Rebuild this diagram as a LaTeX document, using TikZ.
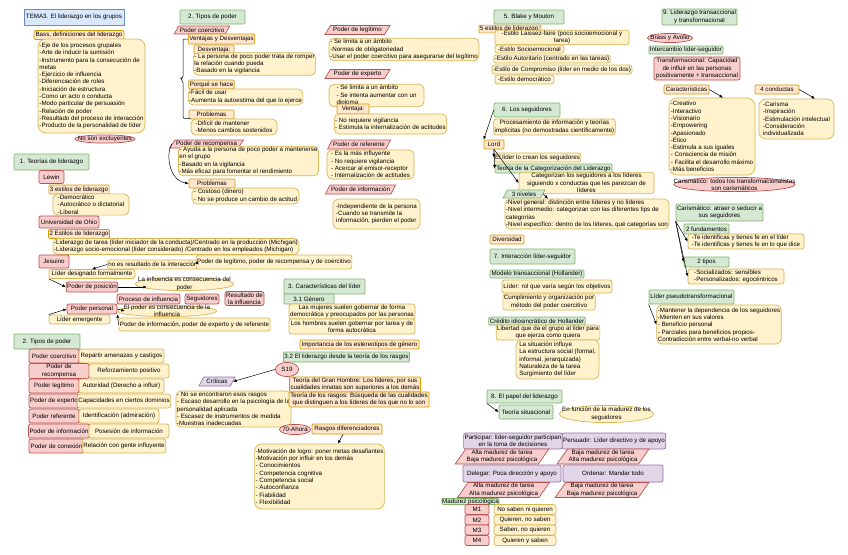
\documentclass[tikz,border=0pt]{standalone}
\usepackage{fontspec}
\setmainfont{Liberation Sans}
\usetikzlibrary{arrows.meta,calc,shapes.geometric}
\definecolor{greenFill} {HTML}{D5E8D4}
\definecolor{greenLine} {HTML}{82B366}
\definecolor{redFill}   {HTML}{F8CECC}
\definecolor{redLine}   {HTML}{B85450}
\definecolor{yellowFill}{HTML}{FFF2CC}
\definecolor{yellowLine}{HTML}{D6B656}
\definecolor{orangeFill}{HTML}{FFE6CC}
\definecolor{orangeLine}{HTML}{D79B00}
\definecolor{blueFill}  {HTML}{DAE8FC}
\definecolor{blueLine}  {HTML}{6C8EBF}
\definecolor{purpleFill}{HTML}{E1D5E7}
\definecolor{purpleLine}{HTML}{9673A6}
\newcommand{\mapfont}{\fontsize{6.2}{7.3}\selectfont}
\tikzset{
  font=\mapfont,
  arrow/.style={-{Latex[length=3.5pt,width=3pt]},draw=black,line width=0.5pt},
  boxbase/.style={rectangle,line width=0.7pt,inner sep=1pt,align=center},
  topicbox/.style={boxbase,fill=blueFill,draw=blueLine},
  titlebox/.style={boxbase,fill=greenFill,draw=greenLine,rounded corners=1pt},
  redbox/.style={boxbase,fill=redFill,draw=redLine,rounded corners=2pt},
  labelbox/.style={boxbase,fill=orangeFill,draw=orangeLine,rounded corners=1pt},
  notebox/.style={boxbase,fill=yellowFill,draw=yellowLine,rounded corners=2.5pt},
  listbox/.style={notebox,align=left,rounded corners=5pt},
  casebox/.style={boxbase,fill=purpleFill,draw=purpleLine,rounded corners=2pt},
  slanted/.style={boxbase,trapezium,trapezium left angle=55,trapezium right angle=125,trapezium stretches body},
  redslant/.style={slanted,fill=redFill,draw=redLine},
  greenslant/.style={slanted,fill=greenFill,draw=greenLine},
  purpleslant/.style={slanted,fill=purpleFill,draw=purpleLine},
  oval/.style 2 args={rectangle,inner sep=0pt,align=center,path picture={
    \path[fill=#1,draw=#2,line width=0.7pt] let \p1=(path picture bounding box.north east),
      \p2=(path picture bounding box.center) in (\p2) ellipse ({\x1-\x2-0.4pt} and {\y1-\y2-0.4pt});}},
  redoval/.style={oval={redFill}{redLine}},
  yellowoval/.style={oval={yellowFill}{yellowLine}},
}

\begin{document}
\begin{tikzpicture}[x=1pt,y=-1pt]

\useasboundingbox[fill=white] (0,0) rectangle (848,554);

\node[topicbox,minimum width=100,minimum height=16] (tema) at (74,17) {TEMA3. El liderazgo en los grupos};
\node[labelbox,minimum width=90,minimum height=9] (bass) at (79,35) {Bass, definiciones del liderazgo};
\node[listbox,minimum width=107,minimum height=94,rounded corners=8pt] (basslist) at (91.5,86)
  {-Eje de los procesos grupales\\-Arte de inducir la sumisión\\-Instrumento para la consecución de\\metas\\-Ejercicio de influencia\\-Diferenciación de roles\\-Iniciación de estructura\\-Como un acto o conducta\\-Modo particular de persuasión\\-Relación de poder\\-Resultado del proceso de interacción\\-Producto de la personalidad de líder};
\node[redoval,minimum width=61,minimum height=9] (noexcl) at (105,139) {No son excluyentes};

\node[titlebox,minimum width=75,minimum height=16] (teorias) at (51.5,162) {1. Teorías de liderazgo};
\node[redbox,minimum width=25,minimum height=13] (lewin) at (51.5,177) {Lewin};
\node[labelbox,minimum width=60,minimum height=9] (tresest) at (79,189.5) {3 estilos de liderazgo};
\node[listbox,minimum width=76,minimum height=21] (tresestlist) at (91,204.5) {-Democrático\\-Autocrático o dictatorial\\-Liberal};
\node[redbox,minimum width=60,minimum height=12] (ohio) at (69,222) {Universidad de Ohio};
\node[labelbox,minimum width=60,minimum height=9] (dosest) at (79,234) {2 Estilos de liderazgo};
\node[listbox,minimum width=246,minimum height=16] (dosestlist) at (176,246.5)
  {-Liderazgo de tarea (líder iniciador de la conducta)/Centrado en la producción (Michigan)\\-Liderazgo socio-emocional (líder considerado) /Centrado en los empleados (Michigan)};
\node[redbox,minimum width=30,minimum height=13] (jesuino) at (54,261.5) {Jesuino};
\node[notebox,minimum width=88,minimum height=9] (noes) at (153,264.5) {no es resultado de la interacción};
\node[notebox,minimum width=150,minimum height=14] (legrec) at (274,262) {Poder de legítimo, poder de recompensa y de coercitivo};
\node[notebox,minimum width=86,minimum height=9] (designado) at (92,274) {Líder designado formalmente};
\node[redbox,minimum width=50,minimum height=10] (posicion) at (92,287) {Poder de posición};
\node[yellowoval,minimum width=99,minimum height=14] (infcons) at (184.5,284) {La influencia es consecuencia del\\poder};
\node[redbox,minimum width=63,minimum height=10] (proceso) at (148.5,299) {Proceso de influencia};
\node[redbox,minimum width=34,minimum height=10] (seguidores) at (202,299) {Seguidores};
\node[redbox,minimum width=39,minimum height=13] (resultado) at (244.5,298.5) {Resultado de\\la influencia};
\node[redbox,minimum width=50,minimum height=10] (personal) at (92,309) {Poder personal};
\node[yellowoval,minimum width=100,minimum height=12] (podcons) at (167,311) {El poder es consecuencia de la\\influencia};
\node[notebox,minimum width=61,minimum height=9] (emergente) at (79.5,319.5) {Líder emergente};
\node[notebox,minimum width=149,minimum height=13] (infexp) at (194.5,324.5) {Poder de información, poder de experto y de referente};

\draw[arrow] (legrec.west) -- (noes.east);
\draw[arrow] (noes.west) -- (designado.north);
\draw[arrow] (designado.south west) -- (posicion.west);
\draw[arrow] (posicion.east) -- ([xshift=12]infcons.west |- posicion.east);
\draw[arrow] (personal.east) -- ([xshift=8]podcons.west);
\draw[arrow] (emergente.north west) -- (personal.west);
\draw[arrow] (infexp.west) -- (personal.south east);

\node[titlebox,minimum width=66,minimum height=15] (tiposb) at (47,341.5) {2. Tipos de poder};
\node[redbox,minimum width=50,minimum height=14] (celcoer) at (54,356) {Poder coercitivo};
\node[notebox,minimum width=85,minimum height=14] (txtcoer) at (121.5,356) {Repartir amenazas y castigos};
\node[redbox,minimum width=60,minimum height=14] (celrecom) at (59,371) {Poder de\\recompensa};
\node[notebox,minimum width=80,minimum height=14] (txtrecom) at (129,371) {Reforzamiento positivo};
\node[redbox,minimum width=50,minimum height=14] (cellegit) at (54,386) {Poder legítimo};
\node[notebox,minimum width=85,minimum height=14] (txtlegit) at (121.5,386) {Autoridad (Derecho a influir)};
\node[redbox,minimum width=50,minimum height=14] (celexp) at (54,401) {Poder de experto};
\node[notebox,minimum width=90,minimum height=14] (txtexp) at (124,401) {Capacidades en ciertos dominios};
\node[redbox,minimum width=50,minimum height=14] (celref) at (54,416) {Poder referente};
\node[notebox,minimum width=80,minimum height=14] (txtref) at (119,416) {Identificación (admiración)};
\node[redbox,minimum width=60,minimum height=14] (celinf) at (59,431) {Poder de información};
\node[notebox,minimum width=80,minimum height=14] (txtinf) at (129,431) {Posesión de información};
\node[redbox,minimum width=55,minimum height=14] (celcon) at (56.5,446) {Poder de conexión};
\node[notebox,minimum width=80,minimum height=14] (txtcon) at (124,446) {Relación con gente influyente};

\node[titlebox,minimum width=65,minimum height=14] (tiposa) at (212.5,17) {2. Tipos de poder};
\node[redslant,minimum width=54,minimum height=8] (coerc) at (202,30) {Poder coercitivo};
\node[labelbox,minimum width=65,minimum height=10] (ventdes) at (221.5,39) {Ventajas y Desventajas};
\node[labelbox,minimum width=40,minimum height=9] (desv) at (214,49.5) {Desventaja:};
\node[listbox,minimum width=121,minimum height=20] (desvlist) at (254.5,64)
  {- La persona de poco poder trata de romper\\la relación cuando pueda\\-Basado en la vigilancia};
\node[labelbox,minimum width=45,minimum height=9] (porque) at (211.5,84.5) {Porqué se hace};
\node[listbox,minimum width=113,minimum height=16] (porquelist) at (245.5,97) {-Fácil de usar\\-Aumenta la autoestima del que lo ejerce};
\node[labelbox,minimum width=45,minimum height=9] (problema) at (211.5,114.5) {Problemas};
\node[listbox,minimum width=86,minimum height=16] (problemalist) at (234,127) {-Difícil de mantener\\-Menos cambios sostenidos};
\coordinate (bracetip) at (180,78);
\draw[line width=0.5pt,rounded corners=2pt] (ventdes.west) -| (bracetip -| 183,0) -- (bracetip) -- (183,81) |- (problemalist.north west);

\node[redslant,minimum width=61,minimum height=8] (recomp) at (206.5,144) {Poder de recompensa};
\node[listbox,minimum width=133,minimum height=26] (recomplist) at (248.5,161)
  {- Ayuda a la persona de poco poder a mantenerse\\en el grupo\\-Basado en la vigilancia\\-Más eficaz para fomentar el rendimiento};
\node[labelbox,minimum width=46,minimum height=9] (problemb) at (212,183.5) {Problemas};
\node[listbox,minimum width=107,minimum height=16] (problemblist) at (245.5,196) {- Costoso (dinero)\\- No se produce un cambio de actitud};
\draw[arrow] (recomp.west) .. controls (166,152) and (168,180) .. (problemb.west);

\node[redslant,minimum width=65,minimum height=9] (legit) at (357.5,30) {Poder de legítimo};
\node[listbox,minimum width=150,minimum height=21] (legitlist) at (404,49.5)
  {- Se limita a un ámbito\\-Normas de obligatoriedad\\-Usar el poder coercitivo para asegurarse del legítimo};
\node[redslant,minimum width=65,minimum height=9] (experto) at (357.5,74) {Poder de experto};
\node[listbox,minimum width=95,minimum height=21] (expertolist) at (376.5,95.5)
  {- Se limita a un ámbito\\- Se intenta aumentar con un\\diploma};
\node[labelbox,minimum width=32,minimum height=10] (ventaja) at (353,109) {Ventaja:};
\node[listbox,minimum width=107,minimum height=20] (ventajalist) at (390.5,124)
  {- No requiere vigilancia\\- Estimula la internalización de actitudes};
\node[redslant,minimum width=62,minimum height=9] (referente) at (359,144.5) {Poder de referente};
\node[listbox,minimum width=87,minimum height=29] (referentelist) at (370.5,164.5)
  {- Es la más influyente\\- No requiere vigilancia\\- Acercar al emisor-receptor\\- Internalización de actitudes};
\node[redslant,minimum width=65,minimum height=9] (informacion) at (360.5,189.5) {Poder de información};
\node[listbox,minimum width=87,minimum height=30] (informacionlist) at (376.5,214)
  {-Independiente de la persona\\-Cuando se transmite la\\información, pierden el poder};

\node[titlebox,minimum width=81,minimum height=15] (caract) at (324.5,286.5) {3. Características del líder};
\node[titlebox,minimum width=50,minimum height=10] (genero) at (309,299) {3.1 Género};
\node[notebox,minimum width=126,minimum height=15] (mujeres) at (352,311.5) {Las mujeres suelen gobernar de forma\\democrática y preocupados por las personas};
\node[notebox,minimum width=126,minimum height=15] (hombres) at (352,326.5) {Los hombres suelen gobernar por tarea y de\\forma autocrática};
\node[labelbox,minimum width=119,minimum height=9] (estereo) at (359.5,344.5) {Importancia de los estereotipos de género};
\node[titlebox,minimum width=125,minimum height=10] (rasgos) at (346.5,357) {3.2 El liderazgo desde la teoría de los rasgos};
\node[redoval,minimum width=24,minimum height=15] (sdiecinueve) at (287,369.5) {S19};
\node[purpleslant,minimum width=36,minimum height=9] (criticas) at (217,381.5) {Críticas};
\node[listbox,minimum width=111,minimum height=36] (criticaslist) at (233.5,409)
  {- No se encontraron esos rasgos\\- Escaso desarrollo en la psicología de la\\personalidad aplicada\\- Escasez de instrumentos de medida\\-Muestras inadecuadas};
\node[labelbox,minimum width=128,minimum height=15] (granhombre) at (355,384.5) {Teoría del Gran Hombre: Los líderes, por sus\\cualidades innatas son superiores a los demás};
\node[labelbox,minimum width=140,minimum height=15] (teorasgos) at (359,399.5) {Teoría de los rasgos: Búsqueda de las cualidades\\que distinguen a los líderes de los que no lo son};
\node[redoval,minimum width=32,minimum height=11] (setenta) at (295,429.5) {70-Ahora};
\node[labelbox,minimum width=70,minimum height=10] (difer) at (347,429) {Rasgos diferenciadores};
\node[listbox,minimum width=125,minimum height=65,rounded corners=7pt] (diferlist) at (319.5,476.5)
  {-Motivación de logro: poner metas desafiantes\\-Motivación por influir en los demás\\- Conocimientos\\- Competencia cognitiva\\- Competencia social\\- Autoconfianza\\- Fiabilidad\\- Flexibilidad};
\draw[arrow] (sdiecinueve.west) -- (criticas.east);
\draw[arrow] ([xshift=-4]difer.south) -- ([xshift=18.5]diferlist.north);

\node[titlebox,minimum width=70,minimum height=14] (blake) at (529,17) {5. Blake y Mouton};
\node[labelbox,minimum width=52,minimum height=7] (cincoest) at (510,29) {5 estilos de liderazgo:};
\node[notebox,minimum width=134,minimum height=11,font=\fontsize{6.2}{5.6}\selectfont] (laissez) at (562,37.5) {-Estilo Laissez-faire (poco socioemocional y\\tarea)};
\node[notebox,minimum width=69,minimum height=8] (socioem) at (529.5,49) {-Estilo Socioemocional};
\node[notebox,minimum width=114,minimum height=8] (autorit) at (552,59) {-Estilo Autoritario (centrado en las tareas)};
\node[notebox,minimum width=134,minimum height=9] (compromiso) at (562,69.5) {-Estilo de Compromiso (líder en medio de los dos)};
\node[notebox,minimum width=59,minimum height=9] (democ) at (524.5,79.5) {-Estilo democrático};

\node[titlebox,minimum width=66,minimum height=14] (seguid) at (527,110) {6. Los seguidores};
\node[notebox,minimum width=119,minimum height=16] (procesam) at (554.5,127) {Procesamiento de información y teorías\\implícitas (no demostradas científicamente)};
\node[labelbox,minimum width=20,minimum height=9] (lord) at (494,144.5) {Lord};
\node[notebox,minimum width=85,minimum height=9] (crean) at (537.5,157.5) {El líder lo crean los seguidores};
\node[titlebox,minimum width=117,minimum height=9] (categ) at (553.5,168.5) {Teoría de la Categorización del Liderazgo};
\node[notebox,minimum width=135,minimum height=20] (categlist) at (586.5,183) {Categorizan los seguidores a los líderes\\siguiendo x conductas que les parezcan de\\líderes};
\node[greenslant,minimum width=42,minimum height=8] (niveles) at (524,194) {3 niveles};
\node[listbox,minimum width=164,minimum height=30] (niveleslist) at (587,214)
  {-Nivel general: distinción entre líderes y no líderes\\-Nivel intermedio: categorizan con las diferentes tips de\\categorías\\-Nivel específico: dentro de los líderes, qué categorías son};
\node[labelbox,minimum width=34,minimum height=9] (diversidad) at (507,239.5) {Diversidad};
\draw[arrow] (seguid.west) -- (lord.north west);
\draw[arrow] (lord.south) -- (crean.west);
\draw[arrow] (lord.south) -- (categ.west);
\draw[arrow] (lord.south) -- (categlist.west);
\draw[arrow] (niveles.east) -- ([xshift=-39]niveleslist.north);

\node[titlebox,minimum width=85,minimum height=15] (interac) at (532.5,256.5) {7. Interacción líder-seguidor};
\node[titlebox,minimum width=94,minimum height=8] (transacc) at (537,274) {Modelo transaccional (Hollander)};
\node[notebox,minimum width=110,minimum height=13] (rolobj) at (557,286.5) {Líder: rol que varía según los objetivos};
\node[notebox,minimum width=90,minimum height=16] (cumpl) at (549,302) {Cumplimiento y organización por\\método del poder coercitivo};
\node[titlebox,minimum width=94,minimum height=8] (credito) at (537,321) {Crédito idiosincrático de Hollander};
\node[notebox,minimum width=102,minimum height=15] (libertad) at (548,332.5) {Libertad que da el grupo al líder para\\que ejerza como quiera};
\node[listbox,minimum width=83,minimum height=39] (situacion) at (557.5,359.5)
  {La situación influye\\La estructura social (formal,\\informal, jerarquizada)\\Naturaleza de la tarea\\Surgimiento del líder};

\node[titlebox,minimum width=75,minimum height=13] (papel) at (524.5,396.5) {8. El papel del liderazgo};
\node[titlebox,minimum width=54,minimum height=14] (situac) at (526,412) {Teoría situacional};
\node[yellowoval,minimum width=95,minimum height=18] (madurez) at (606.5,414) {En función de la madurez de los\\seguidores};
\draw[arrow] (papel.south west) -- (situac.west);
\node[casebox,minimum width=98,minimum height=16] (participar) at (513,441) {Participar: líder-seguidor participan\\en la toma de decisiones};
\node[casebox,minimum width=100,minimum height=16] (persuadir) at (614,441) {Persuadir: Líder directivo y de apoyo};
\node[redslant,minimum width=80,minimum height=15] (atbp) at (502,456.5) {Alta madurez de tarea\\Baja madurez psicológica};
\node[redslant,minimum width=82,minimum height=15] (btap) at (603,456.5) {Baja madurez de tarea\\Alta madurez psicológica};
\node[casebox,minimum width=98,minimum height=17] (delegar) at (512,473.5) {Delegar: Poca dirección y apoyo};
\node[casebox,minimum width=100,minimum height=17] (ordenar) at (613,473.5) {Ordenar: Mandar todo};
\node[redslant,minimum width=81,minimum height=14] (atap) at (503.5,490) {Alta madurez de tarea\\Alta madurez psicológica};
\node[redslant,minimum width=80,minimum height=14] (btbp) at (602,490) {Baja madurez de tarea\\Baja madurez psicológica};
\node[titlebox,minimum width=57,minimum height=6,inner sep=0pt] (madpsic) at (470.5,501.5) {Madurez psicológica};
\node[redbox,minimum width=24,minimum height=10] (mone) at (477,509.5) {M1};
\node[notebox,minimum width=62,minimum height=10] (monetxt) at (525,509.5) {No saben ni quieren};
\node[redbox,minimum width=24,minimum height=10] (mtwo) at (477,520) {M2};
\node[notebox,minimum width=62,minimum height=10] (mtwotxt) at (525,520) {Quieren, no saben};
\node[redbox,minimum width=24,minimum height=10] (mthree) at (477,530) {M3};
\node[notebox,minimum width=62,minimum height=10] (mthreetxt) at (525,530) {Saben, no quieren};
\node[redbox,minimum width=24,minimum height=10] (mfour) at (477,540.5) {M4};
\node[notebox,minimum width=62,minimum height=10] (mfourtxt) at (525,540.5) {Quieren y saben};

\node[titlebox,minimum width=75,minimum height=16] (nueve) at (699.5,17) {9. Liderazgo transaccional\\y transformacional};
\node[redoval,minimum width=46,minimum height=10] (brass) at (670,38) {Brass y Avolio};
\node[titlebox,minimum width=74,minimum height=8] (intercambio) at (686,50) {Intercambio líder-seguidor};
\node[redbox,minimum width=86,minimum height=23] (transform) at (697,68.5) {Transformacional: Capacidad\\de influir en las personas\\positivamente + transaccional};
\node[labelbox,minimum width=45,minimum height=9] (caracts) at (686.5,89.5) {Características};
\node[listbox,minimum width=86,minimum height=77,rounded corners=8pt] (caractslist) at (712,136.5)
  {-Creativo\\-Interactivo\\-Visionario\\-Empowering\\-Apasionado\\-Ético\\-Estimula a sus iguales\\- Consciencia de misión\\- Facilita el desarrollo máximo\\-Más beneficios};
\node[labelbox,minimum width=44,minimum height=9] (cuatro) at (777,89.5) {4 conductas};
\node[listbox,minimum width=75,minimum height=40,rounded corners=7pt] (cuatrolist) at (796.5,119)
  {-Carisma\\-Inspiración\\-Estimulación intelectual\\-Consideración\\individualizada};
\draw[arrow] (caracts.east) -- ([xshift=11]caractslist.north);
\draw[arrow] (cuatro.east) -- ([xshift=18.5]cuatrolist.north);

\node[redoval,minimum width=121,minimum height=15] (caristodos) at (734.5,184.5) {Carismático: todos los transformacionalistas\\son carismáticos};
\node[titlebox,minimum width=85,minimum height=17] (carisatraer) at (719.5,212.5) {Carismático: atraer o seducir a\\sus seguidores};
\node[titlebox,minimum width=45,minimum height=10] (fundam) at (706.5,229) {2 fundamentos};
\node[notebox,minimum width=116,minimum height=15,align=left] (fundamlist) at (746,241.5) {-Te identificas y tienes fe en el líder\\-Te identificas y tienes fe en lo que dice};
\node[titlebox,minimum width=45,minimum height=10] (tiposc) at (706.5,262) {2 tipos};
\node[notebox,minimum width=96,minimum height=15,align=left] (tiposclist) at (736,276.5) {-Socializados: sensibles\\-Personalizados: egocéntricos};
\draw[arrow] (carisatraer.south west) -- (fundamlist.west);
\draw[arrow] (carisatraer.south west) -- (tiposc.west);
\draw[arrow] (carisatraer.south west) -- (tiposclist.west);

\node[titlebox,minimum width=85,minimum height=14] (pseudo) at (691.5,297) {Líder pseudotransformacional};
\node[listbox,minimum width=120,minimum height=39] (pseudolist) at (719,324.5)
  {-Mantener la dependencia de los seguidores\\-Mienten en sus valores\\- Beneficio personal\\- Parciales para beneficios propios-\\Contradicción entre verbal-no verbal};
\draw[arrow] (pseudo.south west) -- (pseudolist.west);

\end{tikzpicture}
\end{document}
